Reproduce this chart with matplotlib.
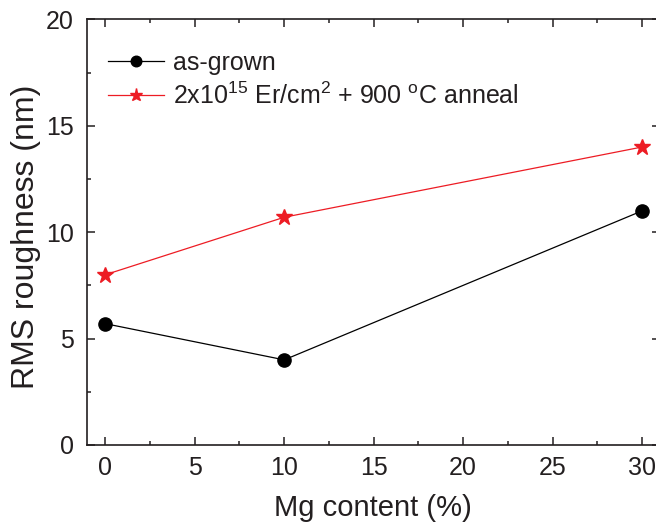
import matplotlib
matplotlib.use("Agg")
import matplotlib.pyplot as plt
from matplotlib.ticker import MultipleLocator

plt.rcParams['font.family'] = ['Liberation Sans', 'DejaVu Sans']
plt.rcParams['mathtext.fontset'] = 'custom'
plt.rcParams['mathtext.rm'] = 'Liberation Sans'

mg_content = [0, 10, 30]
as_grown = [5.7, 4.0, 11.0]
annealed = [8.0, 10.7, 14.0]
labels = ["as-grown", r"2x10$^{15}$ Er/cm$^{2}$ + 900 $^{\mathrm{o}}$C anneal"]

fig = plt.figure(figsize=(6.56, 5.28), dpi=100)
W, H = 656, 528
left, right, top, bottom = 86.5, 660, 19.3, 445
ax = fig.add_axes([left / W, 1 - bottom / H, (right - left) / W, (bottom - top) / H])

txt = '#231f20'
ax.plot(mg_content, as_grown, color='black', lw=0.9, marker='o', ms=9.5,
        label=labels[0])
ax.plot(mg_content, annealed, color='#ed1c24', lw=0.9, marker='*', ms=12,
        label=labels[1])

ax.set_xlim(-1.05, 31.0)
ax.set_ylim(0, 20)
ax.xaxis.set_major_locator(MultipleLocator(5))
ax.xaxis.set_minor_locator(MultipleLocator(2.5))
ax.yaxis.set_major_locator(MultipleLocator(5))
ax.yaxis.set_minor_locator(MultipleLocator(2.5))
ax.tick_params(which='both', direction='in', top=True, right=True, width=1.1,
               labelsize=18, colors=txt)
ax.tick_params(axis='x', pad=8)
ax.tick_params(axis='y', pad=9)
ax.tick_params(which='major', length=5.5)
ax.tick_params(which='minor', length=3)
for s in ax.spines.values():
    s.set_linewidth(1.2)
    s.set_color(txt)

ax.set_xlabel("Mg content (%)", fontsize=21, labelpad=10, color=txt)
ax.set_ylabel("RMS roughness (nm)", fontsize=23, color=txt)
ax.yaxis.set_label_coords((26 - left) / (right - left), 0.49)
ax.yaxis.label.set_verticalalignment('center')

leg = ax.legend(loc='upper left', frameon=False, fontsize=18,
                bbox_to_anchor=(0.0, 0.975), handlelength=2.25,
                handletextpad=0.36, labelspacing=0.3, borderaxespad=0.45,
                markerscale=0.8)
for t in leg.get_texts():
    t.set_color(txt)

fig.savefig("out.png", dpi=100)
